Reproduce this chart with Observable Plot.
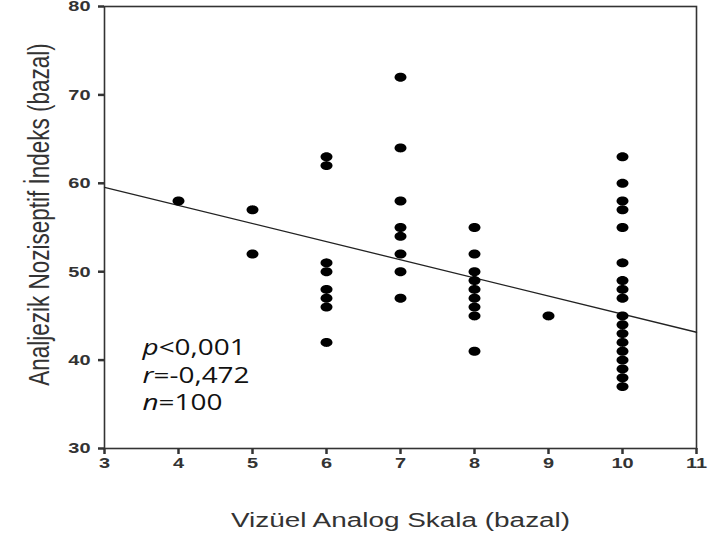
<!DOCTYPE html>
<html>
<head>
<meta charset="utf-8">
<script src="https://cdn.jsdelivr.net/npm/d3@7"></script>
<script src="https://cdn.jsdelivr.net/npm/@observablehq/plot@0.6"></script>
<style>
  html, body { margin: 0; padding: 0; background: #fff; }
</style>
</head>
<body>
<div id="chart"></div>
<script>
// ---- data ----
const vasScores = [4, 5, 6, 7, 8, 9, 10];
const aniAt4 = [58];
const aniAt5 = [57, 52];
const aniAt6 = [63, 62, 51, 50, 48, 47, 46, 42];
const aniAt7 = [72, 64, 58, 55, 54, 52, 50, 47];
const aniAt8 = [55, 52, 50, 49, 48, 47, 46, 45, 41];
const aniAt9 = [45];
const aniAt10 = [63, 60, 58, 57, 55, 51, 49, 48, 47, 45, 44, 43, 42, 41, 40, 39, 38, 37];
const aniByScore = [aniAt4, aniAt5, aniAt6, aniAt7, aniAt8, aniAt9, aniAt10];

const xTicks = [3, 4, 5, 6, 7, 8, 9, 10, 11];
const yTicks = [30, 40, 50, 60, 70, 80];

// fitted regression line as drawn in the reference (ANI = a + b * VAS)
const fitIntercept = 65.7;
const fitSlope = -2.05;

const statsLines = ["p<0,001", "r=-0,472", "n=100"];
const xLabel = "Vizüel Analog Skala (bazal)";
const yLabel = "Analjezik Noziseptif İndeks (bazal)";

// ---- derived tables ----
const points = vasScores.flatMap((v, i) => aniByScore[i].map(a => ({vas: v, ani: a})));
const xDomain = d3.extent(xTicks);
const yDomain = d3.extent(yTicks);
const fitLine = xDomain.map(x => ({vas: x, ani: fitIntercept + fitSlope * x}));

// the reference is horizontally stretched: dots are ellipses
const STRETCH = 1.33;
const ellipse = {
  draw(ctx, size) {
    const r = Math.sqrt(size / Math.PI);
    const rx = r * STRETCH, ry = r, n = 36;
    for (let k = 0; k < n; ++k) {
      const t = (2 * Math.PI * k) / n;
      const px = rx * Math.cos(t), py = ry * Math.sin(t);
      if (k === 0) ctx.moveTo(px, py); else ctx.lineTo(px, py);
    }
    ctx.closePath();
  }
};

const chart = Plot.plot({
  width: 708,
  height: 537,
  marginLeft: 104,
  marginRight: 12,
  marginTop: 6,
  marginBottom: 89,
  style: {fontFamily: "'Liberation Sans', Arial, sans-serif", background: "#fff", color: "#333"},
  x: {domain: xDomain},
  y: {domain: yDomain},
  marks: [
    Plot.axisX({ticks: xTicks, tickSize: 6, tickPadding: 3, strokeWidth: 2.5, fontSize: 15, fontWeight: "bold", label: null}),
    Plot.axisY({ticks: yTicks, tickSize: 6, tickPadding: 8, strokeWidth: 2.5, fontSize: 15, fontWeight: "bold", label: null}),
    Plot.frame({stroke: "#333", strokeWidth: 1.6}),
    Plot.line(fitLine, {x: "vas", y: "ani", stroke: "#222", strokeWidth: 1.3}),
    Plot.dot(points, {x: "vas", y: "ani", r: 4.5, symbol: ellipse, fill: "#000", stroke: "none"}),
    Plot.text([xLabel], {frameAnchor: "bottom", dy: 78, lineAnchor: "bottom", fontSize: 21, fill: "#333"}),
    Plot.text([yLabel], {frameAnchor: "left", dx: -77, dy: -13, rotate: -90, textAnchor: "middle", lineAnchor: "top", fontSize: 22.5, fill: "#333"}),
    Plot.text([statsLines.join("\n")], {
      frameAnchor: "bottom-left", textAnchor: "start", lineAnchor: "bottom",
      dx: 38, dy: -39, lineHeight: 1.286, fontSize: 21,
      fontFamily: "'Open Sans', 'Noto Sans', sans-serif", fill: "#111"
    })
  ]
});

document.getElementById("chart").appendChild(chart);

// italic statistic letters (p, r, n)
chart.querySelectorAll("tspan").forEach(ts => {
  const s = ts.textContent;
  if (!statsLines.includes(s)) return;
  ts.textContent = "";
  const a = document.createElementNS("http://www.w3.org/2000/svg", "tspan");
  a.setAttribute("font-style", "italic");
  a.textContent = s.slice(0, 1);
  const b = document.createElementNS("http://www.w3.org/2000/svg", "tspan");
  b.textContent = s.slice(1);
  ts.appendChild(a);
  ts.appendChild(b);
});

// horizontal stretch of all text around its anchor, in screen space
chart.querySelectorAll("text").forEach(t => {
  const tr = t.getAttribute("transform") || "";
  const m = tr.match(/^translate\([^)]*\)/);
  if (m) t.setAttribute("transform", m[0] + ` scale(${STRETCH},1)` + tr.slice(m[0].length));
});
</script>
</body>
</html>
